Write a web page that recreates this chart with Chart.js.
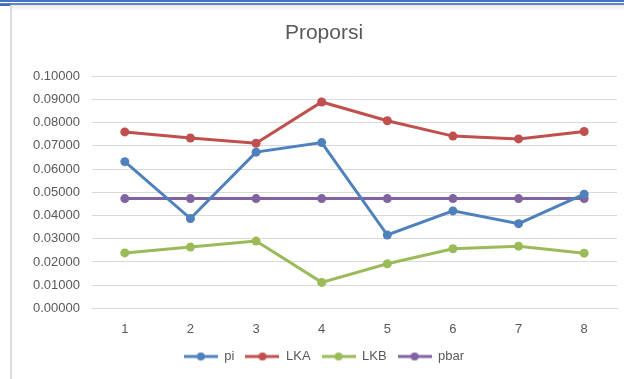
<!DOCTYPE html>
<html>
<head>
<meta charset="utf-8">
<script src="https://cdn.jsdelivr.net/npm/chart.js@4/dist/chart.umd.min.js"></script>
<style>
  html, body { margin: 0; padding: 0; background: #fff; }
  #wrap { position: relative; width: 624px; height: 379px; overflow: hidden; background: #fff; }
  .bar-top1 { position: absolute; left: 0; top: 0; width: 624px; height: 2px; background: #4472c4; }
  .bar-top2 { position: absolute; left: 0; top: 3px; width: 624px; height: 2px; background: #5b86d0; }
  .bar-left { position: absolute; left: 0; top: 4px; width: 11px; height: 2px; background: #3f6dbf; }
  .shade { position: absolute; left: 11px; top: 5px; width: 613px; height: 6px; background: linear-gradient(#e8e8e8, #ffffff); }
  .side { position: absolute; left: 10px; top: 5px; width: 2px; height: 374px; background: #dcdcdc; }
  canvas { position: absolute; left: 0; top: 0; }
</style>
</head>
<body>
<div id="wrap">
  <canvas id="c" width="624" height="379"></canvas>
  <div class="shade"></div>
  <div class="bar-top1"></div>
  <div class="bar-top2"></div>
  <div class="bar-left"></div>
  <div class="side"></div>
</div>
<script>
// Sample numbers on the x axis
const categories = ['1', '2', '3', '4', '5', '6', '7', '8'];

// Proportion per sample and the control limits
const pi   = [0.0632, 0.0387, 0.0673, 0.0714, 0.0316, 0.0420, 0.0365, 0.0492];
const LKA  = [0.0760, 0.0734, 0.0711, 0.0889, 0.0808, 0.0742, 0.0730, 0.0762];
const LKB  = [0.0239, 0.0264, 0.0290, 0.0112, 0.0192, 0.0257, 0.0268, 0.0238];
const pbar = [0.0473, 0.0473, 0.0473, 0.0473, 0.0473, 0.0473, 0.0473, 0.0473];

const seriesNames = ['pi', 'LKA', 'LKB', 'pbar'];
const seriesValues = [pi, LKA, LKB, pbar];
const seriesColors = ['#4f81bd', '#c0504d', '#9bbb59', '#8064a2'];

// Legend marker: a short line with a dot in the middle
function legendMarker(color) {
  const cv = document.createElement('canvas');
  cv.width = 34; cv.height = 10;
  const g = cv.getContext('2d');
  g.strokeStyle = color; g.lineWidth = 3;
  g.beginPath(); g.moveTo(0, 5); g.lineTo(34, 5); g.stroke();
  g.fillStyle = color;
  g.beginPath(); g.arc(17, 5, 4, 0, Math.PI * 2); g.fill();
  return cv;
}
const markers = seriesColors.map(legendMarker);

const font = "'Liberation Sans', 'DejaVu Sans', sans-serif";
const grey = '#595959';

new Chart(document.getElementById('c'), {
  type: 'line',
  data: {
    labels: categories,
    datasets: seriesNames.map((name, i) => ({
      label: name,
      data: seriesValues[i],
      borderColor: seriesColors[i],
      backgroundColor: seriesColors[i],
      borderWidth: 3,
      pointRadius: 4.5,
      pointHoverRadius: 4.5,
      pointBorderWidth: 0,
      tension: 0,
      fill: false
    }))
  },
  options: {
    responsive: false,
    animation: false,
    devicePixelRatio: 1,
    layout: { padding: { left: 31, right: 7, top: 0, bottom: 6 } },
    plugins: {
      title: {
        display: true,
        text: 'Proporsi',
        color: grey,
        font: { family: font, size: 21, weight: 'normal' },
        padding: { top: 21, bottom: 30 }
      },
      legend: {
        position: 'bottom',
        labels: {
          color: grey,
          font: { family: font, size: 13 },
          usePointStyle: true,
          pointStyleWidth: 34,
          padding: 11,
          generateLabels(chart) {
            return chart.data.datasets.map((ds, i) => ({
              text: ds.label,
              fillStyle: ds.borderColor,
              strokeStyle: ds.borderColor,
              fontColor: grey,
              pointStyle: markers[i],
              datasetIndex: i,
              hidden: false,
              lineWidth: 0
            }));
          }
        }
      },
      tooltip: { enabled: false }
    },
    scales: {
      x: {
        offset: true,
        grid: { display: false },
        border: { display: true, color: '#d9d9d9' },
        afterFit(scale) { scale.height -= 3; },
        ticks: { color: grey, font: { family: font, size: 13 }, padding: 5 }
      },
      y: {
        min: 0,
        max: 0.1,
        afterFit(scale) { scale.width = 61; },
        grid: { color: '#d9d9d9', drawTicks: false, lineWidth: 1 },
        border: { display: false },
        ticks: {
          stepSize: 0.01,
          color: grey,
          font: { family: font, size: 13 },
          padding: 12,
          callback: v => Number(v).toFixed(5)
        }
      }
    }
  }
});
</script>
</body>
</html>
